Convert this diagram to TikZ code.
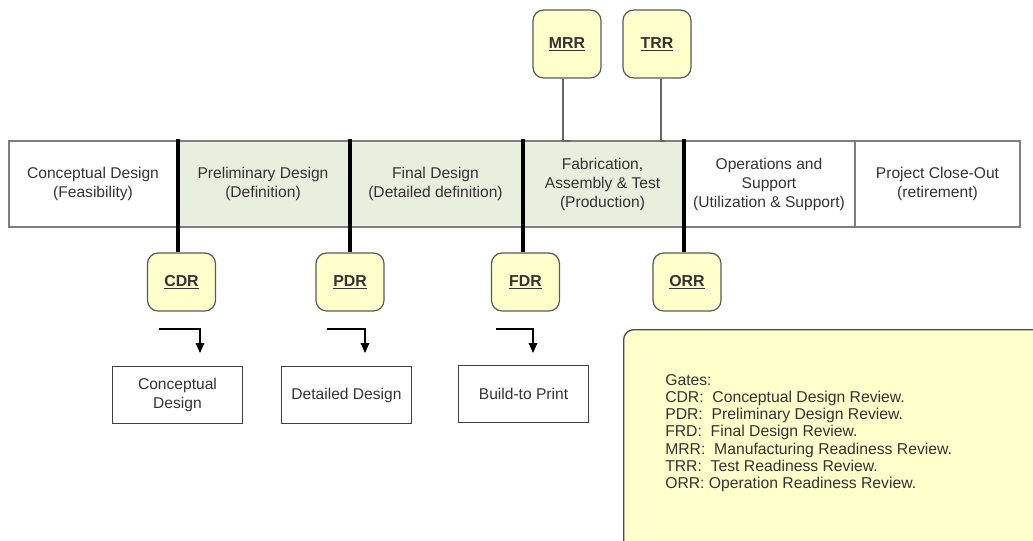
\documentclass[tikz,border=0pt]{standalone}
\usepackage{fontspec}
\setmainfont{Liberation Sans}
\usetikzlibrary{arrows.meta}
\definecolor{phasegreen}{HTML}{E8EFDE}
\definecolor{gateyellow}{HTML}{FFFFCC}
\definecolor{txtgray}{HTML}{333333}
\definecolor{bordergray}{HTML}{7F7F7F}
\begin{document}
\begin{tikzpicture}[x=0.75pt,y=-0.75pt,
  every node/.style={font=\fontsize{11.7}{14.25}\selectfont, text=txtgray},
  phase/.style={draw=bordergray, line width=0.9pt, minimum height=64.5pt, inner sep=0pt, align=center},
  gatebox/.style={draw=gray!70!black, line width=0.9pt, fill=gateyellow, rounded corners=8pt, minimum width=51pt, inner sep=0pt, font=\fontsize{11.9}{14}\selectfont\bfseries},
  outbox/.style={draw=black!75, line width=0.9pt, minimum width=98pt, minimum height=43pt, inner sep=0pt, align=center},
  gateline/.style={line width=3pt, black},
  conn/.style={draw=gray!80!black, line width=0.9pt},
  flowarrow/.style={line width=0.8pt, black, -{Triangle[length=7.5pt,width=6.5pt]}},
]
\useasboundingbox (0,0) rectangle (1033,540);
\clip (0,0) rectangle (1033,540);

% legend
\node[draw=gray!60!black, line width=1pt, fill=gateyellow, rounded corners=7.5pt, minimum width=316.5pt, minimum height=165pt, anchor=north west, inner sep=0pt] (legend) at (623,329) {};
\node[anchor=west, align=left, inner sep=0pt, font=\fontsize{11.8}{12.9}\selectfont] (legendtext) at (665,433) {Gates:\\CDR:\ \ Conceptual Design Review.\\PDR:\ \ Preliminary Design Review.\\FRD:\ \ Final Design Review.\\MRR:\ \ Manufacturing Readiness Review.\\TRR:\ \ Test Readiness Review.\\ORR: Operation Readiness Review.};

% phases
\node[phase, minimum width=126pt] (p1) at (93,184) {Conceptual Design\\(Feasibility)};
\node[phase, fill=phasegreen, minimum width=129pt] (p2) at (263,184) {Preliminary Design\\(Definition)};
\node[phase, fill=phasegreen, minimum width=129.75pt] (p3) at (435.5,184) {Final Design\\(Detailed definition)};
\node[phase, fill=phasegreen, minimum width=120.75pt] (p4) at (602.5,184) {Fabrication,\\Assembly \& Test\\(Production)};
\node[phase, minimum width=129pt] (p5) at (769,184) {Operations and\\Support\\(Utilization \& Support)};
\node[phase, minimum width=123.75pt] (p6) at (937.5,184) {Project Close-Out\\(retirement)};

% top gates
\node[gatebox, minimum height=51pt] (MRR) at (567,44) {\underline{MRR}};
\node[gatebox, minimum height=51pt] (TRR) at (657,44) {\underline{TRR}};
\coordinate (m1) at (571,141);
\coordinate (m2) at (665,141);
\draw[conn] ([xshift=-3pt]MRR.south) |- (m1);
\draw[conn] ([xshift=3pt]TRR.south) |- (m2);

% bottom gates
\node[gatebox, minimum height=43.5pt] (CDR) at (181.5,282) {\underline{CDR}};
\node[gatebox, minimum height=43.5pt] (PDR) at (350,282) {\underline{PDR}};
\node[gatebox, minimum height=43.5pt] (FDR) at (525.5,282) {\underline{FDR}};
\node[gatebox, minimum height=43.5pt] (ORR) at (687,282) {\underline{ORR}};

\coordinate (t1) at (178,139);
\coordinate (t2) at (350,139);
\coordinate (t3) at (523,139);
\coordinate (t4) at (684,139);
\draw[gateline] (t1) -- (t1 |- CDR.north);
\draw[gateline] (t2) -- (t2 |- PDR.north);
\draw[gateline] (t3) -- (t3 |- FDR.north);
\draw[gateline] (t4) -- (t4 |- ORR.north);

% outputs
\node[outbox] (o1) at (177.5,395) {Conceptual\\Design};
\node[outbox] (o2) at (346.5,395) {Detailed Design};
\node[outbox] (o3) at (523.5,394) {Build-to Print};

\coordinate (a1s) at (159,329); \coordinate (a1e) at (200,353);
\coordinate (a2s) at (327,329); \coordinate (a2e) at (365,353);
\coordinate (a3s) at (496,329); \coordinate (a3e) at (533,353);
\draw[flowarrow] (a1s) -| (a1e);
\draw[flowarrow] (a2s) -| (a2e);
\draw[flowarrow] (a3s) -| (a3e);
\end{tikzpicture}
\end{document}
